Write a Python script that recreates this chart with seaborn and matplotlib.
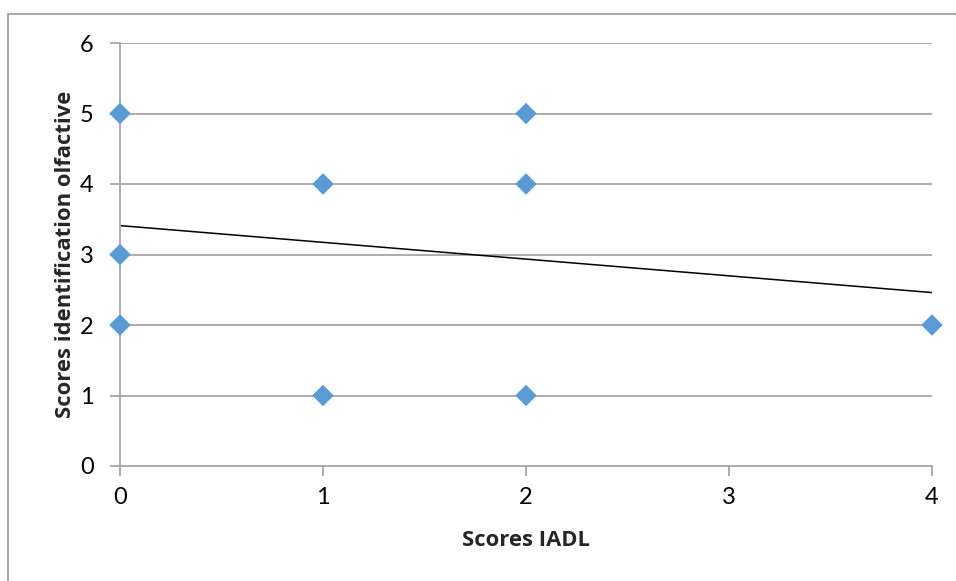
import matplotlib
matplotlib.use('Agg')
import matplotlib.pyplot as plt
import seaborn as sns
import pandas as pd
from matplotlib.patches import Rectangle

# data
iadl = [0, 0, 0, 1, 1, 2, 2, 2, 4]
olfactive = [5, 3, 2, 4, 1, 5, 4, 1, 2]
trend_x = [0, 4]
trend_y = [3.41, 2.46]
x_ticks = [0, 1, 2, 3, 4]
y_ticks = [0, 1, 2, 3, 4, 5, 6]

sns.set_theme(style="white")
plt.rcParams['font.family'] = ['Lato', 'DejaVu Sans']

df = pd.DataFrame({"iadl": iadl, "olf": olfactive})

fig = plt.figure(figsize=(9.56, 5.81), dpi=100)
ax = fig.add_axes([120 / 956, 1 - 466 / 581, 812 / 956, 423 / 581])

grid_col = "#a6a6a6"
for yv in y_ticks[1:]:
    ax.axhline(yv, color=grid_col, lw=1.3, zorder=1)

ax.plot(trend_x, trend_y, color="black", lw=1.1, zorder=2)
sns.scatterplot(data=df, x="iadl", y="olf", ax=ax, marker="D", s=120,
                color="#5b9bd5", edgecolor="none", zorder=3, clip_on=False)

ax.set_xlim(0, 4)
ax.set_ylim(0, 6)
ax.set_xticks(x_ticks)
ax.set_yticks(y_ticks)
for side in ["top", "right"]:
    ax.spines[side].set_visible(False)
for side in ["left", "bottom"]:
    ax.spines[side].set_color(grid_col)
    ax.spines[side].set_linewidth(1.3)
ax.tick_params(axis="both", which="major", length=7, width=1.3, color=grid_col,
               labelsize=17, labelcolor="black", direction="out",
               bottom=True, left=True)
ax.tick_params(axis="x", pad=8)
ax.tick_params(axis="y", pad=12)

label_font = dict(family=["Open Sans", "DejaVu Sans"], fontsize=15.8,
                  fontweight="bold")
ax.set_xlabel("Scores IADL", labelpad=16, **label_font)
ax.set_ylabel("Scores identification olfactive", labelpad=3, **label_font)

# outer chart border
fig.patches.append(Rectangle((8 / 956, -0.05), 1.1, 1 - 14 / 581 + 0.05,
                             transform=fig.transFigure, fill=False,
                             edgecolor="#a0a0a0", lw=1.3))

fig.savefig("out.png", dpi=100)
